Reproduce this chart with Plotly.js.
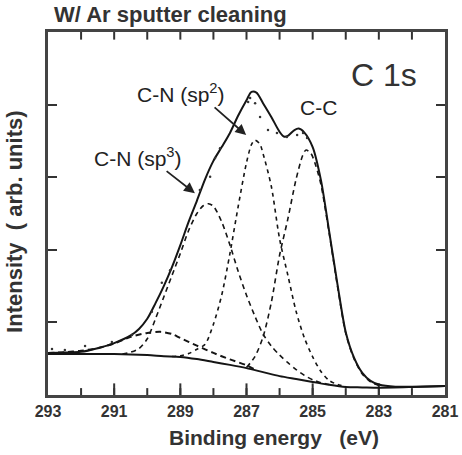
<!DOCTYPE html>
<html>
<head>
<meta charset="utf-8">
<script src="https://cdn.plot.ly/plotly-3.0.1.min.js"></script>
<style>html,body{margin:0;padding:0;background:#fff;}#chart{width:462px;height:455px;}</style>
</head>
<body>
<div id="chart"></div>
<script>
// Binding energy (eV) and intensity (arb. units)
const bgE = [293.0, 292.0, 291.0, 290.0, 289.5, 289.0, 288.5, 288.0, 287.5, 287.0, 286.5, 286.0, 285.5, 285.0, 284.5, 284.0, 283.5, 283.0, 282.0, 281.0];
const bgI = [11.3, 11.3, 11.3, 11.0, 10.7, 10.5, 9.9, 9.1, 8.3, 7.4, 6.3, 5.2, 4.4, 3.6, 2.8, 2.2, 2.1, 2.0, 2.2, 2.5];

const envE = [293.0, 292.5, 292.0, 291.5, 291.0, 290.5, 290.25, 290.0, 289.75, 289.5, 289.25, 289.0, 288.75, 288.5, 288.25, 288.0, 287.75, 287.5, 287.25, 287.0, 286.85, 286.7, 286.5, 286.25, 286.0, 285.87, 285.75, 285.55, 285.42, 285.25, 285.0, 284.75, 284.5, 284.25, 284.0, 283.75, 283.5, 283.25, 283.0, 282.5, 282.0, 281.0];
const envI = [11.6, 11.7, 11.9, 12.9, 14.3, 16.4, 18.2, 21.0, 25.3, 30.0, 35.3, 41.3, 47.7, 53.5, 59.5, 64.5, 68.3, 72.2, 77.0, 81.2, 83.5, 83.3, 80.4, 76.6, 72.5, 71.2, 71.4, 73.0, 73.4, 72.3, 68.3, 59.2, 45.0, 30.5, 17.3, 10.3, 6.1, 3.9, 2.9, 2.3, 2.3, 2.5];

const broadE = [293.0, 292.5, 292.0, 291.5, 291.0, 290.5, 290.0, 289.6, 289.25, 289.0, 288.5, 288.0, 287.5, 287.0, 286.75];
const broadI = [11.6, 11.8, 12.2, 12.9, 14.2, 16.0, 17.1, 17.4, 16.8, 15.7, 13.6, 11.6, 9.8, 8.2, 7.0];

const sp3E = [290.75, 290.5, 290.25, 290.0, 289.75, 289.5, 289.25, 289.0, 288.75, 288.5, 288.3, 288.15, 288.0, 287.75, 287.5, 287.25, 287.0, 286.75, 286.5, 286.25, 286.0, 285.75, 285.5, 285.25, 285.0, 284.75, 284.5];
const sp3I = [11.3, 11.8, 12.8, 15.5, 21.0, 27.0, 33.0, 39.0, 45.3, 50.0, 52.2, 52.7, 52.0, 47.7, 41.3, 34.0, 27.5, 21.8, 16.8, 13.5, 11.0, 8.9, 7.0, 5.4, 4.2, 3.4, 2.9];

const sp2E = [289.25, 289.0, 288.75, 288.5, 288.25, 288.0, 287.75, 287.5, 287.25, 287.0, 286.85, 286.75, 286.6, 286.5, 286.25, 286.0, 285.75, 285.5, 285.25, 285.0, 284.75, 284.5, 284.25, 284.0];
const sp2I = [10.6, 10.8, 11.4, 12.6, 14.0, 19.5, 27.5, 39.0, 52.0, 64.0, 69.0, 70.2, 69.2, 66.5, 57.5, 43.0, 33.0, 23.0, 15.7, 10.5, 6.5, 4.0, 2.9, 2.3];

const ccE = [287.0, 286.75, 286.5, 286.25, 286.0, 285.75, 285.5, 285.3, 285.2, 285.05, 284.9, 284.75, 284.5, 284.25, 284.0, 283.75, 283.5, 283.25, 283.0];
const ccI = [7.6, 10.5, 16.0, 25.5, 38.5, 48.5, 59.5, 66.0, 67.5, 66.5, 63.0, 58.0, 44.5, 30.0, 17.0, 10.0, 5.8, 3.6, 2.6];

const dotE = [292.88, 292.49, 291.88, 291.07, 290.46, 289.86, 289.56, 289.31, 288.41, 288.10, 287.95, 287.80, 286.95, 286.89, 286.74, 286.59, 286.35, 286.08, 285.78, 285.47, 285.29, 285.17];
const dotI = [12.7, 12.4, 13.5, 14.6, 16.5, 22.9, 30.9, 34.4, 56.5, 60.1, 65.3, 68.0, 80.7, 81.8, 80.4, 76.6, 73.0, 72.2, 71.1, 71.6, 72.2, 70.8];

// tick labels (bottom) and tick mark positions
const labelVals = [293, 291, 289, 287, 285, 283, 281];
const labelText = ['293', '291', '289', '287', '285', '283', '281'];
const majorVals = [291, 289, 287, 285, 283];
const minorVals = [292, 291, 290, 289, 288, 287, 286, 285, 284, 283, 282];
const yTickVals = [20, 40, 60, 80];
const Y_MIN = 0, Y_MAX = 100;

const ink = '#151515';
function solid(x, y, w) {
  return {x: x, y: y, type: 'scatter', mode: 'lines', line: {color: ink, width: w, shape: 'spline', smoothing: 0.8}, hoverinfo: 'skip', showlegend: false};
}
function dashed(x, y, w, d) {
  return {x: x, y: y, type: 'scatter', mode: 'lines', line: {color: ink, width: w, dash: d, shape: 'spline', smoothing: 0.8}, hoverinfo: 'skip', showlegend: false};
}
// inward tick marks on the x edges, built from the tick arrays
function tickMarks(vals, from, to) {
  const xs = [], ys = [];
  vals.forEach(function (v) { xs.push(v, v, null); ys.push(from, to, null); });
  return {x: xs, y: ys, type: 'scatter', mode: 'lines', line: {color: '#333', width: 2}, hoverinfo: 'skip', showlegend: false, cliponaxis: false};
}

const traces = [
  tickMarks(minorVals, Y_MIN, Y_MIN + 1.9),
  tickMarks(majorVals, Y_MIN, Y_MIN + 3.2),
  tickMarks(minorVals, Y_MAX, Y_MAX - 2.1),
  solid(bgE, bgI, 2),
  dashed(broadE, broadI, 2, '6px,4px'),
  dashed(sp3E, sp3I, 1.6, '5px,4px'),
  dashed(sp2E, sp2I, 1.6, '4px,4px'),
  dashed(ccE, ccI, 1.6, '5px,4px'),
  solid(envE, envI, 2),
  {x: dotE, y: dotI, type: 'scatter', mode: 'markers', marker: {color: '#333', size: 2.5}, hoverinfo: 'skip', showlegend: false}
];

const family = '"Liberation Sans", Arial, sans-serif';
const layout = {
  width: 462, height: 455,
  margin: {l: 48, r: 17, t: 32, b: 60},
  paper_bgcolor: '#fff', plot_bgcolor: '#fff',
  font: {family: family, color: '#222'},
  xaxis: {
    range: [293, 281], showgrid: false, zeroline: false,
    showline: true, mirror: true, linewidth: 3, linecolor: '#444',
    ticks: '', tickmode: 'array', tickvals: labelVals, ticktext: labelText,
    tickfont: {family: family, size: 16, weight: 'bold', color: '#333'}
  },
  yaxis: {
    range: [Y_MIN, Y_MAX], showgrid: false, zeroline: false,
    showline: true, mirror: 'ticks', linewidth: 3, linecolor: '#444',
    ticks: 'inside', ticklen: 9, tickwidth: 2, tickcolor: '#333',
    tickvals: yTickVals, showticklabels: false
  },
  annotations: [
    {xref: 'paper', yref: 'paper', x: 0.01, y: 1.047, xanchor: 'left', yanchor: 'middle', showarrow: false,
     text: 'W/ Ar sputter cleaning', font: {family: family, size: 22, weight: 'bold', color: '#333'}},
    {xref: 'paper', yref: 'paper', x: 0.569, y: -0.116, xanchor: 'center', yanchor: 'middle', showarrow: false,
     text: 'Binding energy\u00a0\u00a0\u00a0(eV)', font: {family: family, size: 21, weight: 'bold', color: '#333'}},
    {xref: 'paper', yref: 'paper', x: -0.083, y: 0.477, xanchor: 'center', yanchor: 'middle', showarrow: false, textangle: -90,
     text: 'Intensity\u00a0\u00a0(\u00a0arb.\u00a0units)', font: {family: family, size: 22, weight: 'bold', color: '#333'}},
    {x: 282.84, y: 88.2, xanchor: 'center', yanchor: 'middle', showarrow: false,
     text: 'C 1s', font: {family: family, size: 32, color: '#333'}},
    {x: 288.98, y: 83.2, xanchor: 'center', yanchor: 'middle', showarrow: false,
     text: 'C-N (sp<sup>2</sup>)', font: {family: family, size: 21, color: '#222'}},
    {x: 290.28, y: 65.6, xanchor: 'center', yanchor: 'middle', showarrow: false,
     text: 'C-N (sp<sup>3</sup>)', font: {family: family, size: 21, color: '#222'}},
    {x: 284.81, y: 79.1, xanchor: 'center', yanchor: 'middle', showarrow: false,
     text: 'C-C', font: {family: family, size: 21, color: '#222'}},
    {x: 287.01, y: 71.6, ax: 288.01, ay: 79.6, axref: 'x', ayref: 'y', text: '', showarrow: true,
     arrowhead: 2, arrowsize: 1.2, arrowwidth: 1.8, arrowcolor: '#222'},
    {x: 288.56, y: 55.6, ax: 289.46, ay: 62.0, axref: 'x', ayref: 'y', text: '', showarrow: true,
     arrowhead: 2, arrowsize: 1.2, arrowwidth: 1.8, arrowcolor: '#222'}
  ]
};

Plotly.newPlot('chart', traces, layout, {displayModeBar: false, staticPlot: true});
</script>
</body>
</html>
